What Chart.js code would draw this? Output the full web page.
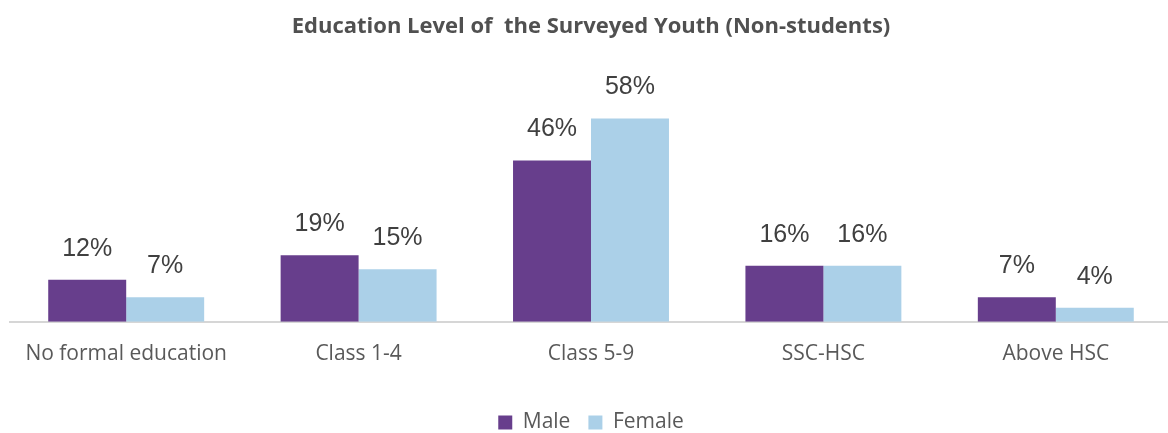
<!DOCTYPE html>
<html>
<head>
<meta charset="utf-8">
<script src="https://cdn.jsdelivr.net/npm/chart.js@4.4.0/dist/chart.umd.min.js"></script>
<style>
    html, body { margin: 0; padding: 0; background: #fff; overflow: hidden; }
    #wrap { position: relative; width: 1176px; height: 443px; }
</style>
</head>
<body>
<div id="wrap"><canvas id="myChart"></canvas></div>
<script>
const categories = ['No formal education', 'Class 1-4', 'Class 5-9', 'SSC-HSC', 'Above HSC'];
const maleValues = [12, 19, 46, 16, 7];
const femaleValues = [7, 15, 58, 16, 4];

// draws the % labels above each bar
const valueLabels = {
    id: 'valueLabels',
    afterDatasetsDraw(chart) {
        const ctx = chart.ctx;
        ctx.save();
        ctx.font = '25px "Liberation Sans", Arial, sans-serif';
        ctx.fillStyle = '#404040';
        ctx.textAlign = 'center';
        ctx.textBaseline = 'alphabetic';
        chart.data.datasets.forEach(function(ds, i) {
            chart.getDatasetMeta(i).data.forEach(function(bar, j) {
                ctx.fillText(ds.data[j] + '%', bar.x, bar.y - 24);
            });
        });
        ctx.restore();
    }
};

const ctx = document.getElementById('myChart').getContext('2d');
const myChart = new Chart(ctx, {
    type: 'bar',
    data: {
        labels: categories,
        datasets: [{
            label: 'Male',
            data: maleValues,
            backgroundColor: '#673E8C',
            categoryPercentage: 0.671,
            barPercentage: 1.0
        }, {
            label: 'Female',
            data: femaleValues,
            backgroundColor: '#ABD0E8',
            categoryPercentage: 0.671,
            barPercentage: 1.0
        }]
    },
    options: {
        responsive: true,
        maintainAspectRatio: false,
        animation: false,
        layout: {
            padding: { left: 10, right: 4, top: 0, bottom: 0 }
        },
        scales: {
            y: {
                display: false,
                min: 0,
                max: 60
            },
            x: {
                grid: { display: false, drawTicks: false },
                border: { display: true, color: '#D6D6D6', width: 2 },
                ticks: {
                    padding: 20,
                    color: '#595959',
                    font: { family: '"Open Sans", sans-serif', size: 21 }
                },
                // extra room under the tick labels, above the legend
                afterFit: function(scale) { scale.height += 7; }
            }
        },
        plugins: {
            title: {
                display: true,
                text: 'Education Level of  the Surveyed Youth (Non-students)',
                color: '#505050',
                font: { family: '"Open Sans", sans-serif', size: 22, weight: 'bold' },
                padding: { top: 14, bottom: 71 }
            },
            legend: {
                position: 'bottom',
                labels: {
                    boxWidth: 14,
                    boxHeight: 14,
                    padding: 18,
                    color: '#595959',
                    font: { family: '"Open Sans", sans-serif', size: 21 }
                }
            },
            tooltip: { enabled: false }
        }
    },
    plugins: [valueLabels]
});
</script>
</body>
</html>
